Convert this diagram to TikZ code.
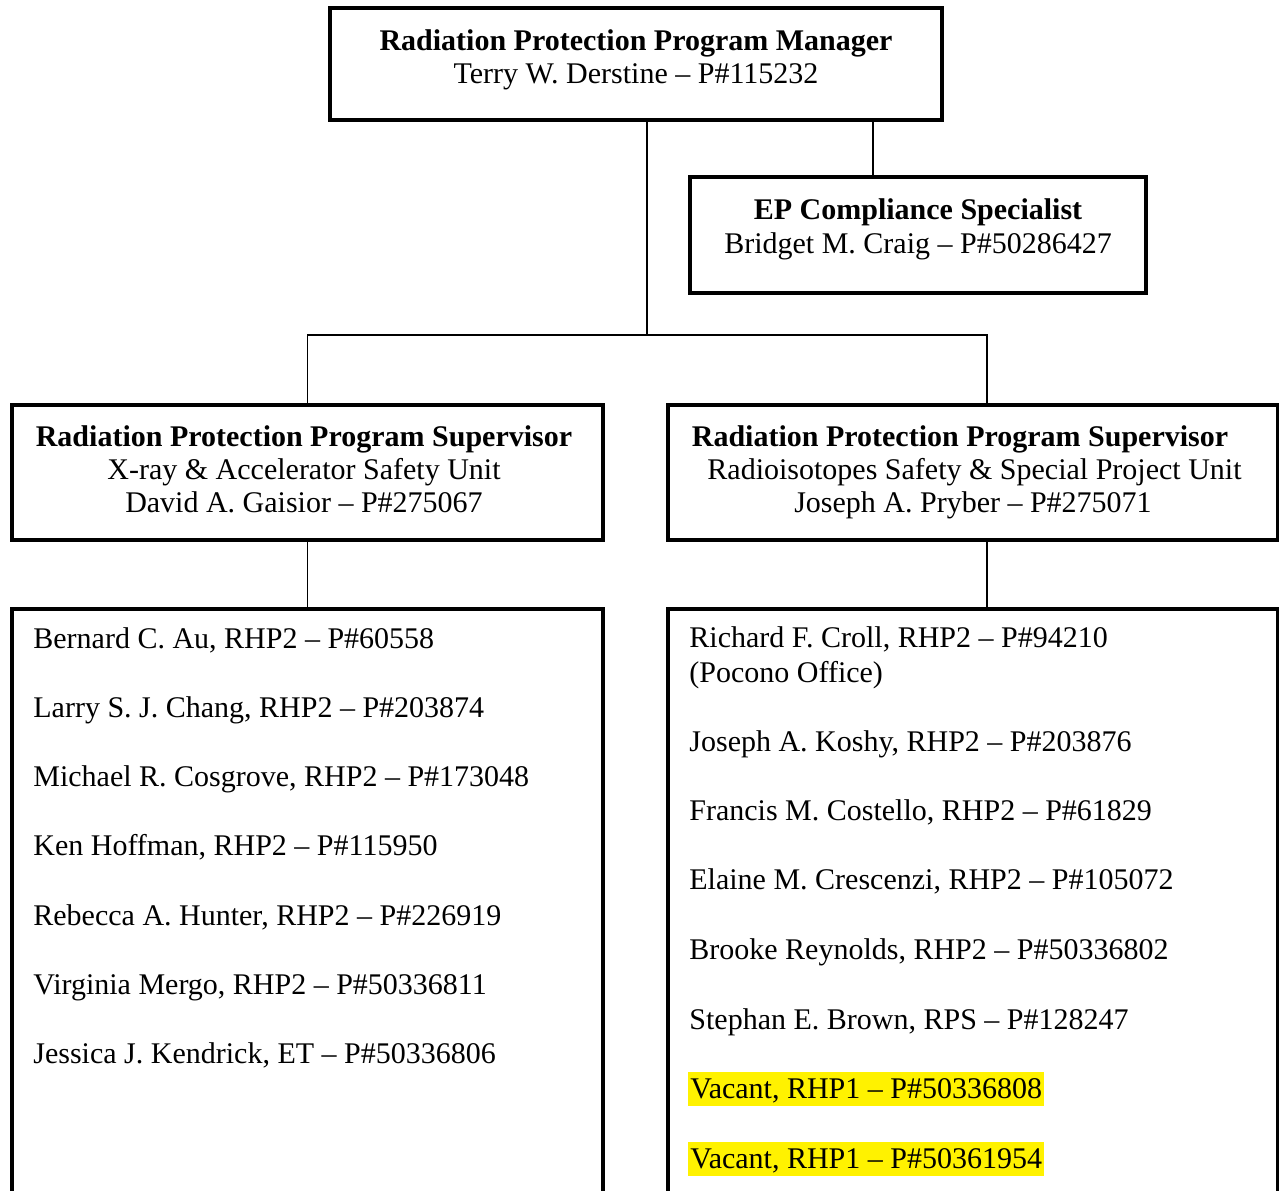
\documentclass[tikz,border=0pt]{standalone}
\usepackage{fontspec}
\setmainfont{Liberation Serif}
\begin{document}
\begin{tikzpicture}[x=0.5pt,y=-0.5pt,
  box/.style={draw, line width=1.75pt, inner sep=0pt},
  conn/.style={line width=0.8pt},
  txt/.style={font=\fontsize{15}{17.25}\selectfont, inner sep=0pt, anchor=base},
  ltxt/.style={txt, anchor=base west},
  hl/.style={ltxt, fill=yellow, text height=12.5pt, text depth=3.5pt, inner ysep=0.5pt, inner xsep=1pt}
]
\useasboundingbox (0,0) rectangle (1279,1190);
\clip (0,0) rectangle (1279,1190);
% boxes
\node[box, minimum width=306pt, minimum height=56pt] (mgr) at (636,64) {};
\node[box, minimum width=228pt, minimum height=58pt] (ep) at (918,235) {};
\node[box, minimum width=295.5pt, minimum height=67.5pt] (supL) at (307.5,472.5) {};
\node[box, minimum width=305pt, minimum height=67.5pt] (supR) at (973,472.5) {};
\node[box, minimum width=295.5pt, minimum height=321.5pt, anchor=north] (listL) at (307.5,607) {};
\node[box, minimum width=305pt, minimum height=321.5pt, anchor=north] (listR) at (973,607) {};
% connectors
\coordinate (jn) at (647,335);
\coordinate (rj) at (987,335);
\coordinate (ej) at (873,177);
\draw[conn] (jn |- mgr.south) -- (jn);
\draw[conn] (ej |- mgr.south) -- (ej |- ep.north);
\draw[conn] (supL.north) |- (rj) -- (rj |- supR.north);
\draw[conn] (supL.south) -- (listL.north);
\draw[conn] (rj |- supR.south) -- (rj |- listR.north);
% header texts
\node[txt] (mgr1) at (636,50) {\textbf{Radiation Protection Program Manager}};
\node[txt] (mgr2) at (636,83) {Terry W. Derstine – P\#115232};
\node[txt] (ep1) at (918,219) {\textbf{EP Compliance Specialist}};
\node[txt] (ep2) at (918,253) {Bridget M. Craig – P\#50286427};
\node[txt] (sl1) at (304,446) {\textbf{Radiation Protection Program Supervisor}};
\node[txt] (sl2) at (304,479) {X-ray \& Accelerator Safety Unit};
\node[txt] (sl3) at (304,512) {David A. Gaisior – P\#275067};
\node[txt] (sr1) at (960,446) {\textbf{Radiation Protection Program Supervisor}};
\node[txt] (sr2) at (974.5,479) {Radioisotopes Safety \& Special Project Unit};
\node[txt] (sr3) at (973,512) {Joseph A. Pryber – P\#275071};
% left list
\node[ltxt] (a1) at (33,648) {Bernard C. Au, RHP2 – P\#60558};
\node[ltxt] (a2) at (33,717.3) {Larry S. J. Chang, RHP2 – P\#203874};
\node[ltxt] (a3) at (33,786.6) {Michael R. Cosgrove, RHP2 – P\#173048};
\node[ltxt] (a4) at (33,855.9) {Ken Hoffman, RHP2 – P\#115950};
\node[ltxt] (a5) at (33,925.2) {Rebecca A. Hunter, RHP2 – P\#226919};
\node[ltxt] (a6) at (33,994.5) {Virginia Mergo, RHP2 – P\#50336811};
\node[ltxt] (a7) at (33,1063.8) {Jessica J. Kendrick, ET – P\#50336806};
% right list
\node[ltxt] (b1) at (689,647) {Richard F. Croll, RHP2 – P\#94210};
\node[ltxt] (b1b) at (689,682) {(Pocono Office)};
\node[ltxt] (b2) at (689,751) {Joseph A. Koshy, RHP2 – P\#203876};
\node[ltxt] (b3) at (689,820) {Francis M. Costello, RHP2 – P\#61829};
\node[ltxt] (b4) at (689,889) {Elaine M. Crescenzi, RHP2 – P\#105072};
\node[ltxt] (b5) at (689,959) {Brooke Reynolds, RHP2 – P\#50336802};
\node[ltxt] (b6) at (689,1029) {Stephan E. Brown, RPS – P\#128247};
\node[hl] (b7) at (688,1098) {Vacant, RHP1 – P\#50336808};
\node[hl] (b8) at (688,1168) {Vacant, RHP1 – P\#50361954};
\end{tikzpicture}
\end{document}
